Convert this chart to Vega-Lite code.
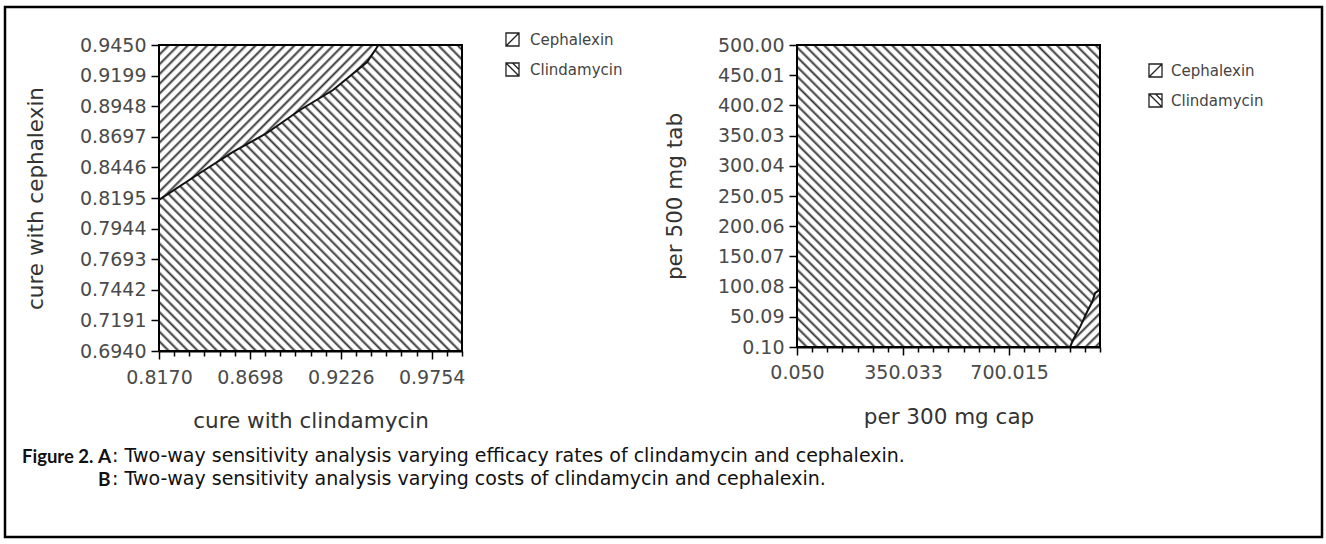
{
  "$schema": "https://vega.github.io/schema/vega-lite/v6.json",
  "width": 1317,
  "height": 530,
  "autosize": {"type": "none"},
  "padding": {"left": 5, "top": 7, "right": 4, "bottom": 7},
  "background": "white",
  "config": {
    "view": {"stroke": "#000", "strokeWidth": 2.5},
    "axis": {
      "grid": false,
      "domainColor": "#000",
      "domainWidth": 2,
      "tickColor": "#000",
      "tickWidth": 1.5,
      "labelFont": "DejaVu Sans",
      "labelFontSize": 19,
      "labelColor": "#4a4a4a",
      "labelFlush": false,
      "labelOverlap": false,
      "labelBound": false,
      "titleFont": "DejaVu Sans",
      "titleFontSize": 21.5,
      "titleFontWeight": "normal",
      "titleColor": "#333"
    }
  },
  "datasets": {
    "rectA": [{"x1": 0.817, "x2": 0.993, "y1": 0.694, "y2": 0.945}],
    "regionA": [
      {"x": 0.817, "yTop": 0.818, "yBot": 0.694},
      {"x": 0.8408, "yTop": 0.84, "yBot": 0.694},
      {"x": 0.86, "yTop": 0.8573, "yBot": 0.694},
      {"x": 0.8797, "yTop": 0.8728, "yBot": 0.694},
      {"x": 0.8989, "yTop": 0.8917, "yBot": 0.694},
      {"x": 0.9181, "yTop": 0.9081, "yBot": 0.694},
      {"x": 0.9379, "yTop": 0.931, "yBot": 0.694},
      {"x": 0.9445, "yTop": 0.945, "yBot": 0.694},
      {"x": 0.993, "yTop": 0.945, "yBot": 0.694}
    ],
    "rectB": [{"x1": 0.05, "x2": 1000, "y1": 0.1, "y2": 500}],
    "regionB": [
      {"x": 0.05, "yTop": 500, "yBot": 0.1},
      {"x": 901, "yTop": 500, "yBot": 0.1},
      {"x": 911, "yTop": 500, "yBot": 11.7},
      {"x": 934, "yTop": 500, "yBot": 33},
      {"x": 957, "yTop": 500, "yBot": 58},
      {"x": 974, "yTop": 500, "yBot": 74.6},
      {"x": 984, "yTop": 500, "yBot": 89.5},
      {"x": 1000, "yTop": 500, "yBot": 95}
    ],
    "drugs": [{"drug": "Cephalexin"}, {"drug": "Clindamycin"}]
  },
  "layer": [
    {
      "layer": [
        {
          "data": {"name": "rectA"},
          "mark": {"type": "rect", "fill": {"gradient": "linear", "x1": 0, "y1": 0, "x2": 1, "y2": 1, "stops": [
{"offset":0,"color":"#333"},{"offset":0.005,"color":"#fff"},{"offset":0.012,"color":"#fff"},
{"offset":0.016,"color":"#333"},{"offset":0.021,"color":"#fff"},{"offset":0.028,"color":"#fff"},
{"offset":0.032,"color":"#333"},{"offset":0.037,"color":"#fff"},{"offset":0.044,"color":"#fff"},
{"offset":0.048,"color":"#333"},{"offset":0.053,"color":"#fff"},{"offset":0.06,"color":"#fff"},
{"offset":0.064,"color":"#333"},{"offset":0.069,"color":"#fff"},{"offset":0.076,"color":"#fff"},
{"offset":0.08,"color":"#333"},{"offset":0.085,"color":"#fff"},{"offset":0.092,"color":"#fff"},
{"offset":0.096,"color":"#333"},{"offset":0.101,"color":"#fff"},{"offset":0.108,"color":"#fff"},
{"offset":0.112,"color":"#333"},{"offset":0.117,"color":"#fff"},{"offset":0.124,"color":"#fff"},
{"offset":0.128,"color":"#333"},{"offset":0.133,"color":"#fff"},{"offset":0.14,"color":"#fff"},
{"offset":0.144,"color":"#333"},{"offset":0.149,"color":"#fff"},{"offset":0.156,"color":"#fff"},
{"offset":0.16,"color":"#333"},{"offset":0.165,"color":"#fff"},{"offset":0.172,"color":"#fff"},
{"offset":0.176,"color":"#333"},{"offset":0.181,"color":"#fff"},{"offset":0.188,"color":"#fff"},
{"offset":0.192,"color":"#333"},{"offset":0.197,"color":"#fff"},{"offset":0.204,"color":"#fff"},
{"offset":0.208,"color":"#333"},{"offset":0.213,"color":"#fff"},{"offset":0.22,"color":"#fff"},
{"offset":0.224,"color":"#333"},{"offset":0.229,"color":"#fff"},{"offset":0.236,"color":"#fff"},
{"offset":0.24,"color":"#333"},{"offset":0.245,"color":"#fff"},{"offset":0.252,"color":"#fff"},
{"offset":0.256,"color":"#333"},{"offset":0.261,"color":"#fff"},{"offset":0.268,"color":"#fff"},
{"offset":0.272,"color":"#333"},{"offset":0.277,"color":"#fff"},{"offset":0.284,"color":"#fff"},
{"offset":0.288,"color":"#333"},{"offset":0.293,"color":"#fff"},{"offset":0.3,"color":"#fff"},
{"offset":0.304,"color":"#333"},{"offset":0.309,"color":"#fff"},{"offset":0.316,"color":"#fff"},
{"offset":0.32,"color":"#333"},{"offset":0.325,"color":"#fff"},{"offset":0.332,"color":"#fff"},
{"offset":0.336,"color":"#333"},{"offset":0.341,"color":"#fff"},{"offset":0.348,"color":"#fff"},
{"offset":0.352,"color":"#333"},{"offset":0.357,"color":"#fff"},{"offset":0.364,"color":"#fff"},
{"offset":0.368,"color":"#333"},{"offset":0.373,"color":"#fff"},{"offset":0.38,"color":"#fff"},
{"offset":0.384,"color":"#333"},{"offset":0.389,"color":"#fff"},{"offset":0.396,"color":"#fff"},
{"offset":0.4,"color":"#333"},{"offset":0.405,"color":"#fff"},{"offset":0.412,"color":"#fff"},
{"offset":0.416,"color":"#333"},{"offset":0.421,"color":"#fff"},{"offset":0.428,"color":"#fff"},
{"offset":0.432,"color":"#333"},{"offset":0.437,"color":"#fff"},{"offset":0.444,"color":"#fff"},
{"offset":0.448,"color":"#333"},{"offset":0.453,"color":"#fff"},{"offset":0.46,"color":"#fff"},
{"offset":0.464,"color":"#333"},{"offset":0.469,"color":"#fff"},{"offset":0.476,"color":"#fff"},
{"offset":0.48,"color":"#333"},{"offset":0.485,"color":"#fff"},{"offset":0.492,"color":"#fff"},
{"offset":0.496,"color":"#333"},{"offset":0.501,"color":"#fff"},{"offset":0.508,"color":"#fff"},
{"offset":0.512,"color":"#333"},{"offset":0.517,"color":"#fff"},{"offset":0.524,"color":"#fff"},
{"offset":0.528,"color":"#333"},{"offset":0.533,"color":"#fff"},{"offset":0.54,"color":"#fff"},
{"offset":0.544,"color":"#333"},{"offset":0.549,"color":"#fff"},{"offset":0.556,"color":"#fff"},
{"offset":0.56,"color":"#333"},{"offset":0.565,"color":"#fff"},{"offset":0.572,"color":"#fff"},
{"offset":0.576,"color":"#333"},{"offset":0.581,"color":"#fff"},{"offset":0.588,"color":"#fff"},
{"offset":0.592,"color":"#333"},{"offset":0.597,"color":"#fff"},{"offset":0.604,"color":"#fff"},
{"offset":0.608,"color":"#333"},{"offset":0.613,"color":"#fff"},{"offset":0.62,"color":"#fff"},
{"offset":0.624,"color":"#333"},{"offset":0.629,"color":"#fff"},{"offset":0.636,"color":"#fff"},
{"offset":0.64,"color":"#333"},{"offset":0.645,"color":"#fff"},{"offset":0.652,"color":"#fff"},
{"offset":0.656,"color":"#333"},{"offset":0.661,"color":"#fff"},{"offset":0.668,"color":"#fff"},
{"offset":0.672,"color":"#333"},{"offset":0.677,"color":"#fff"},{"offset":0.684,"color":"#fff"},
{"offset":0.688,"color":"#333"},{"offset":0.693,"color":"#fff"},{"offset":0.7,"color":"#fff"},
{"offset":0.704,"color":"#333"},{"offset":0.709,"color":"#fff"},{"offset":0.716,"color":"#fff"},
{"offset":0.72,"color":"#333"},{"offset":0.725,"color":"#fff"},{"offset":0.732,"color":"#fff"},
{"offset":0.736,"color":"#333"},{"offset":0.741,"color":"#fff"},{"offset":0.748,"color":"#fff"},
{"offset":0.752,"color":"#333"},{"offset":0.757,"color":"#fff"},{"offset":0.764,"color":"#fff"},
{"offset":0.768,"color":"#333"},{"offset":0.773,"color":"#fff"},{"offset":0.78,"color":"#fff"},
{"offset":0.784,"color":"#333"},{"offset":0.789,"color":"#fff"},{"offset":0.796,"color":"#fff"},
{"offset":0.8,"color":"#333"},{"offset":0.805,"color":"#fff"},{"offset":0.812,"color":"#fff"},
{"offset":0.816,"color":"#333"},{"offset":0.821,"color":"#fff"},{"offset":0.828,"color":"#fff"},
{"offset":0.832,"color":"#333"},{"offset":0.837,"color":"#fff"},{"offset":0.844,"color":"#fff"},
{"offset":0.848,"color":"#333"},{"offset":0.853,"color":"#fff"},{"offset":0.86,"color":"#fff"},
{"offset":0.864,"color":"#333"},{"offset":0.869,"color":"#fff"},{"offset":0.876,"color":"#fff"},
{"offset":0.88,"color":"#333"},{"offset":0.885,"color":"#fff"},{"offset":0.892,"color":"#fff"},
{"offset":0.896,"color":"#333"},{"offset":0.901,"color":"#fff"},{"offset":0.908,"color":"#fff"},
{"offset":0.912,"color":"#333"},{"offset":0.917,"color":"#fff"},{"offset":0.924,"color":"#fff"},
{"offset":0.928,"color":"#333"},{"offset":0.933,"color":"#fff"},{"offset":0.94,"color":"#fff"},
{"offset":0.944,"color":"#333"},{"offset":0.949,"color":"#fff"},{"offset":0.956,"color":"#fff"},
{"offset":0.96,"color":"#333"},{"offset":0.965,"color":"#fff"},{"offset":0.972,"color":"#fff"},
{"offset":0.976,"color":"#333"},{"offset":0.981,"color":"#fff"},{"offset":0.988,"color":"#fff"},
{"offset":0.992,"color":"#333"},{"offset":0.997,"color":"#fff"},{"offset":1,"color":"#fff"}
          ]}},
          "encoding": {
            "x": {"field": "x1", "type": "quantitative",
              "scale": {"domain": [0.817, 0.993], "range": [154, 457], "nice": false, "zero": false},
              "axis": {"orient": "bottom", "offset": -186, "title": "cure with clindamycin", "titlePadding": 23, "labelPadding": 9,
                "values": [0.817, 0.8258, 0.8346, 0.8434, 0.8522, 0.861, 0.8698, 0.8786, 0.8874, 0.8962, 0.905, 0.9138, 0.9226, 0.9314, 0.9402, 0.949, 0.9578, 0.9666, 0.9754, 0.9842, 0.993],
                "labelExpr": "indexof([0.817,0.8698,0.9226,0.9754], datum.value) >= 0 ? format(datum.value, '.4f') : ''",
                "tickSize": {"condition": {"test": "indexof([0.817,0.8698,0.9226,0.9754], datum.value) >= 0", "value": 8}, "value": 5}}},
            "x2": {"field": "x2"},
            "y": {"field": "y1", "type": "quantitative",
              "scale": {"domain": [0.694, 0.945], "range": [344, 38], "nice": false, "zero": false},
              "axis": {"orient": "left", "offset": -154, "title": "cure with cephalexin", "titlePadding": 32, "labelPadding": 5,
                "values": [0.694, 0.70655, 0.7191, 0.73165, 0.7442, 0.75675, 0.7693, 0.78185, 0.7944, 0.80695, 0.8195, 0.83205, 0.8446, 0.85715, 0.8697, 0.88225, 0.8948, 0.90735, 0.9199, 0.93245, 0.945],
                "labelExpr": "indexof([0.694,0.7191,0.7442,0.7693,0.7944,0.8195,0.8446,0.8697,0.8948,0.9199,0.945], datum.value) >= 0 ? format(datum.value, '.4f') : ''",
                "tickSize": {"condition": {"test": "indexof([0.694,0.7191,0.7442,0.7693,0.7944,0.8195,0.8446,0.8697,0.8948,0.9199,0.945], datum.value) >= 0", "value": 8}, "value": 5}}},
            "y2": {"field": "y2"}
          }
        },
        {
          "data": {"name": "regionA"},
          "mark": {"type": "area", "interpolate": "linear", "fill": {"gradient": "linear", "x1": 0, "y1": 1, "x2": 1, "y2": 0, "stops": [
{"offset":0,"color":"#333"},{"offset":0.005,"color":"#fff"},{"offset":0.012,"color":"#fff"},
{"offset":0.016,"color":"#333"},{"offset":0.021,"color":"#fff"},{"offset":0.028,"color":"#fff"},
{"offset":0.032,"color":"#333"},{"offset":0.037,"color":"#fff"},{"offset":0.044,"color":"#fff"},
{"offset":0.048,"color":"#333"},{"offset":0.053,"color":"#fff"},{"offset":0.06,"color":"#fff"},
{"offset":0.064,"color":"#333"},{"offset":0.069,"color":"#fff"},{"offset":0.076,"color":"#fff"},
{"offset":0.08,"color":"#333"},{"offset":0.085,"color":"#fff"},{"offset":0.092,"color":"#fff"},
{"offset":0.096,"color":"#333"},{"offset":0.101,"color":"#fff"},{"offset":0.108,"color":"#fff"},
{"offset":0.112,"color":"#333"},{"offset":0.117,"color":"#fff"},{"offset":0.124,"color":"#fff"},
{"offset":0.128,"color":"#333"},{"offset":0.133,"color":"#fff"},{"offset":0.14,"color":"#fff"},
{"offset":0.144,"color":"#333"},{"offset":0.149,"color":"#fff"},{"offset":0.156,"color":"#fff"},
{"offset":0.16,"color":"#333"},{"offset":0.165,"color":"#fff"},{"offset":0.172,"color":"#fff"},
{"offset":0.176,"color":"#333"},{"offset":0.181,"color":"#fff"},{"offset":0.188,"color":"#fff"},
{"offset":0.192,"color":"#333"},{"offset":0.197,"color":"#fff"},{"offset":0.204,"color":"#fff"},
{"offset":0.208,"color":"#333"},{"offset":0.213,"color":"#fff"},{"offset":0.22,"color":"#fff"},
{"offset":0.224,"color":"#333"},{"offset":0.229,"color":"#fff"},{"offset":0.236,"color":"#fff"},
{"offset":0.24,"color":"#333"},{"offset":0.245,"color":"#fff"},{"offset":0.252,"color":"#fff"},
{"offset":0.256,"color":"#333"},{"offset":0.261,"color":"#fff"},{"offset":0.268,"color":"#fff"},
{"offset":0.272,"color":"#333"},{"offset":0.277,"color":"#fff"},{"offset":0.284,"color":"#fff"},
{"offset":0.288,"color":"#333"},{"offset":0.293,"color":"#fff"},{"offset":0.3,"color":"#fff"},
{"offset":0.304,"color":"#333"},{"offset":0.309,"color":"#fff"},{"offset":0.316,"color":"#fff"},
{"offset":0.32,"color":"#333"},{"offset":0.325,"color":"#fff"},{"offset":0.332,"color":"#fff"},
{"offset":0.336,"color":"#333"},{"offset":0.341,"color":"#fff"},{"offset":0.348,"color":"#fff"},
{"offset":0.352,"color":"#333"},{"offset":0.357,"color":"#fff"},{"offset":0.364,"color":"#fff"},
{"offset":0.368,"color":"#333"},{"offset":0.373,"color":"#fff"},{"offset":0.38,"color":"#fff"},
{"offset":0.384,"color":"#333"},{"offset":0.389,"color":"#fff"},{"offset":0.396,"color":"#fff"},
{"offset":0.4,"color":"#333"},{"offset":0.405,"color":"#fff"},{"offset":0.412,"color":"#fff"},
{"offset":0.416,"color":"#333"},{"offset":0.421,"color":"#fff"},{"offset":0.428,"color":"#fff"},
{"offset":0.432,"color":"#333"},{"offset":0.437,"color":"#fff"},{"offset":0.444,"color":"#fff"},
{"offset":0.448,"color":"#333"},{"offset":0.453,"color":"#fff"},{"offset":0.46,"color":"#fff"},
{"offset":0.464,"color":"#333"},{"offset":0.469,"color":"#fff"},{"offset":0.476,"color":"#fff"},
{"offset":0.48,"color":"#333"},{"offset":0.485,"color":"#fff"},{"offset":0.492,"color":"#fff"},
{"offset":0.496,"color":"#333"},{"offset":0.501,"color":"#fff"},{"offset":0.508,"color":"#fff"},
{"offset":0.512,"color":"#333"},{"offset":0.517,"color":"#fff"},{"offset":0.524,"color":"#fff"},
{"offset":0.528,"color":"#333"},{"offset":0.533,"color":"#fff"},{"offset":0.54,"color":"#fff"},
{"offset":0.544,"color":"#333"},{"offset":0.549,"color":"#fff"},{"offset":0.556,"color":"#fff"},
{"offset":0.56,"color":"#333"},{"offset":0.565,"color":"#fff"},{"offset":0.572,"color":"#fff"},
{"offset":0.576,"color":"#333"},{"offset":0.581,"color":"#fff"},{"offset":0.588,"color":"#fff"},
{"offset":0.592,"color":"#333"},{"offset":0.597,"color":"#fff"},{"offset":0.604,"color":"#fff"},
{"offset":0.608,"color":"#333"},{"offset":0.613,"color":"#fff"},{"offset":0.62,"color":"#fff"},
{"offset":0.624,"color":"#333"},{"offset":0.629,"color":"#fff"},{"offset":0.636,"color":"#fff"},
{"offset":0.64,"color":"#333"},{"offset":0.645,"color":"#fff"},{"offset":0.652,"color":"#fff"},
{"offset":0.656,"color":"#333"},{"offset":0.661,"color":"#fff"},{"offset":0.668,"color":"#fff"},
{"offset":0.672,"color":"#333"},{"offset":0.677,"color":"#fff"},{"offset":0.684,"color":"#fff"},
{"offset":0.688,"color":"#333"},{"offset":0.693,"color":"#fff"},{"offset":0.7,"color":"#fff"},
{"offset":0.704,"color":"#333"},{"offset":0.709,"color":"#fff"},{"offset":0.716,"color":"#fff"},
{"offset":0.72,"color":"#333"},{"offset":0.725,"color":"#fff"},{"offset":0.732,"color":"#fff"},
{"offset":0.736,"color":"#333"},{"offset":0.741,"color":"#fff"},{"offset":0.748,"color":"#fff"},
{"offset":0.752,"color":"#333"},{"offset":0.757,"color":"#fff"},{"offset":0.764,"color":"#fff"},
{"offset":0.768,"color":"#333"},{"offset":0.773,"color":"#fff"},{"offset":0.78,"color":"#fff"},
{"offset":0.784,"color":"#333"},{"offset":0.789,"color":"#fff"},{"offset":0.796,"color":"#fff"},
{"offset":0.8,"color":"#333"},{"offset":0.805,"color":"#fff"},{"offset":0.812,"color":"#fff"},
{"offset":0.816,"color":"#333"},{"offset":0.821,"color":"#fff"},{"offset":0.828,"color":"#fff"},
{"offset":0.832,"color":"#333"},{"offset":0.837,"color":"#fff"},{"offset":0.844,"color":"#fff"},
{"offset":0.848,"color":"#333"},{"offset":0.853,"color":"#fff"},{"offset":0.86,"color":"#fff"},
{"offset":0.864,"color":"#333"},{"offset":0.869,"color":"#fff"},{"offset":0.876,"color":"#fff"},
{"offset":0.88,"color":"#333"},{"offset":0.885,"color":"#fff"},{"offset":0.892,"color":"#fff"},
{"offset":0.896,"color":"#333"},{"offset":0.901,"color":"#fff"},{"offset":0.908,"color":"#fff"},
{"offset":0.912,"color":"#333"},{"offset":0.917,"color":"#fff"},{"offset":0.924,"color":"#fff"},
{"offset":0.928,"color":"#333"},{"offset":0.933,"color":"#fff"},{"offset":0.94,"color":"#fff"},
{"offset":0.944,"color":"#333"},{"offset":0.949,"color":"#fff"},{"offset":0.956,"color":"#fff"},
{"offset":0.96,"color":"#333"},{"offset":0.965,"color":"#fff"},{"offset":0.972,"color":"#fff"},
{"offset":0.976,"color":"#333"},{"offset":0.981,"color":"#fff"},{"offset":0.988,"color":"#fff"},
{"offset":0.992,"color":"#333"},{"offset":0.997,"color":"#fff"},{"offset":1,"color":"#fff"}
          ]}},
          "encoding": {
            "x": {"field": "x", "type": "quantitative"},
            "y": {"field": "yTop", "type": "quantitative"},
            "y2": {"field": "yBot"}
          }
        },
        {
          "data": {"name": "regionA"},
          "transform": [{"filter": "datum.x <= 0.9445"}],
          "mark": {"type": "line", "color": "#111", "strokeWidth": 2},
          "encoding": {
            "x": {"field": "x", "type": "quantitative"},
            "y": {"field": "yTop", "type": "quantitative"}
          }
        },
        {
          "data": {"name": "rectA"},
          "mark": {"type": "rect", "filled": false, "stroke": "#000", "strokeWidth": 2},
          "encoding": {
            "x": {"field": "x1", "type": "quantitative"},
            "x2": {"field": "x2"},
            "y": {"field": "y1", "type": "quantitative"},
            "y2": {"field": "y2"}
          }
        },
        {
          "data": {"name": "drugs"},
          "mark": {"type": "point", "opacity": 0, "color": "#222", "strokeWidth": 1.3},
          "encoding": {
            "shape": {"field": "drug", "type": "nominal",
              "scale": {"domain": ["Cephalexin", "Clindamycin"], "range": ["M-1,-1H1V1H-1Z M-1,1L1,-1", "M-1,-1H1V1H-1Z M-1,-1L1,1 M0,-1L1,0"]},
              "legend": {"title": null, "orient": "none", "legendX": 500, "legendY": 25, "symbolOpacity": 1, "symbolStrokeColor": "#222", "symbolFillColor": "#fff", "symbolSize": 170, "symbolStrokeWidth": 1.3, "labelFont": "DejaVu Sans", "labelFontSize": 15, "labelColor": "#444", "rowPadding": 11, "labelOffset": 10}}
          }
        }
      ]
    },
    {
      "layer": [
        {
          "data": {"name": "rectB"},
          "mark": {"type": "rect", "fill": {"gradient": "linear", "x1": 0, "y1": 0, "x2": 1, "y2": 1, "stops": [
{"offset":0,"color":"#333"},{"offset":0.005,"color":"#fff"},{"offset":0.012,"color":"#fff"},
{"offset":0.016,"color":"#333"},{"offset":0.021,"color":"#fff"},{"offset":0.028,"color":"#fff"},
{"offset":0.032,"color":"#333"},{"offset":0.037,"color":"#fff"},{"offset":0.044,"color":"#fff"},
{"offset":0.048,"color":"#333"},{"offset":0.053,"color":"#fff"},{"offset":0.06,"color":"#fff"},
{"offset":0.064,"color":"#333"},{"offset":0.069,"color":"#fff"},{"offset":0.076,"color":"#fff"},
{"offset":0.08,"color":"#333"},{"offset":0.085,"color":"#fff"},{"offset":0.092,"color":"#fff"},
{"offset":0.096,"color":"#333"},{"offset":0.101,"color":"#fff"},{"offset":0.108,"color":"#fff"},
{"offset":0.112,"color":"#333"},{"offset":0.117,"color":"#fff"},{"offset":0.124,"color":"#fff"},
{"offset":0.128,"color":"#333"},{"offset":0.133,"color":"#fff"},{"offset":0.14,"color":"#fff"},
{"offset":0.144,"color":"#333"},{"offset":0.149,"color":"#fff"},{"offset":0.156,"color":"#fff"},
{"offset":0.16,"color":"#333"},{"offset":0.165,"color":"#fff"},{"offset":0.172,"color":"#fff"},
{"offset":0.176,"color":"#333"},{"offset":0.181,"color":"#fff"},{"offset":0.188,"color":"#fff"},
{"offset":0.192,"color":"#333"},{"offset":0.197,"color":"#fff"},{"offset":0.204,"color":"#fff"},
{"offset":0.208,"color":"#333"},{"offset":0.213,"color":"#fff"},{"offset":0.22,"color":"#fff"},
{"offset":0.224,"color":"#333"},{"offset":0.229,"color":"#fff"},{"offset":0.236,"color":"#fff"},
{"offset":0.24,"color":"#333"},{"offset":0.245,"color":"#fff"},{"offset":0.252,"color":"#fff"},
{"offset":0.256,"color":"#333"},{"offset":0.261,"color":"#fff"},{"offset":0.268,"color":"#fff"},
{"offset":0.272,"color":"#333"},{"offset":0.277,"color":"#fff"},{"offset":0.284,"color":"#fff"},
{"offset":0.288,"color":"#333"},{"offset":0.293,"color":"#fff"},{"offset":0.3,"color":"#fff"},
{"offset":0.304,"color":"#333"},{"offset":0.309,"color":"#fff"},{"offset":0.316,"color":"#fff"},
{"offset":0.32,"color":"#333"},{"offset":0.325,"color":"#fff"},{"offset":0.332,"color":"#fff"},
{"offset":0.336,"color":"#333"},{"offset":0.341,"color":"#fff"},{"offset":0.348,"color":"#fff"},
{"offset":0.352,"color":"#333"},{"offset":0.357,"color":"#fff"},{"offset":0.364,"color":"#fff"},
{"offset":0.368,"color":"#333"},{"offset":0.373,"color":"#fff"},{"offset":0.38,"color":"#fff"},
{"offset":0.384,"color":"#333"},{"offset":0.389,"color":"#fff"},{"offset":0.396,"color":"#fff"},
{"offset":0.4,"color":"#333"},{"offset":0.405,"color":"#fff"},{"offset":0.412,"color":"#fff"},
{"offset":0.416,"color":"#333"},{"offset":0.421,"color":"#fff"},{"offset":0.428,"color":"#fff"},
{"offset":0.432,"color":"#333"},{"offset":0.437,"color":"#fff"},{"offset":0.444,"color":"#fff"},
{"offset":0.448,"color":"#333"},{"offset":0.453,"color":"#fff"},{"offset":0.46,"color":"#fff"},
{"offset":0.464,"color":"#333"},{"offset":0.469,"color":"#fff"},{"offset":0.476,"color":"#fff"},
{"offset":0.48,"color":"#333"},{"offset":0.485,"color":"#fff"},{"offset":0.492,"color":"#fff"},
{"offset":0.496,"color":"#333"},{"offset":0.501,"color":"#fff"},{"offset":0.508,"color":"#fff"},
{"offset":0.512,"color":"#333"},{"offset":0.517,"color":"#fff"},{"offset":0.524,"color":"#fff"},
{"offset":0.528,"color":"#333"},{"offset":0.533,"color":"#fff"},{"offset":0.54,"color":"#fff"},
{"offset":0.544,"color":"#333"},{"offset":0.549,"color":"#fff"},{"offset":0.556,"color":"#fff"},
{"offset":0.56,"color":"#333"},{"offset":0.565,"color":"#fff"},{"offset":0.572,"color":"#fff"},
{"offset":0.576,"color":"#333"},{"offset":0.581,"color":"#fff"},{"offset":0.588,"color":"#fff"},
{"offset":0.592,"color":"#333"},{"offset":0.597,"color":"#fff"},{"offset":0.604,"color":"#fff"},
{"offset":0.608,"color":"#333"},{"offset":0.613,"color":"#fff"},{"offset":0.62,"color":"#fff"},
{"offset":0.624,"color":"#333"},{"offset":0.629,"color":"#fff"},{"offset":0.636,"color":"#fff"},
{"offset":0.64,"color":"#333"},{"offset":0.645,"color":"#fff"},{"offset":0.652,"color":"#fff"},
{"offset":0.656,"color":"#333"},{"offset":0.661,"color":"#fff"},{"offset":0.668,"color":"#fff"},
{"offset":0.672,"color":"#333"},{"offset":0.677,"color":"#fff"},{"offset":0.684,"color":"#fff"},
{"offset":0.688,"color":"#333"},{"offset":0.693,"color":"#fff"},{"offset":0.7,"color":"#fff"},
{"offset":0.704,"color":"#333"},{"offset":0.709,"color":"#fff"},{"offset":0.716,"color":"#fff"},
{"offset":0.72,"color":"#333"},{"offset":0.725,"color":"#fff"},{"offset":0.732,"color":"#fff"},
{"offset":0.736,"color":"#333"},{"offset":0.741,"color":"#fff"},{"offset":0.748,"color":"#fff"},
{"offset":0.752,"color":"#333"},{"offset":0.757,"color":"#fff"},{"offset":0.764,"color":"#fff"},
{"offset":0.768,"color":"#333"},{"offset":0.773,"color":"#fff"},{"offset":0.78,"color":"#fff"},
{"offset":0.784,"color":"#333"},{"offset":0.789,"color":"#fff"},{"offset":0.796,"color":"#fff"},
{"offset":0.8,"color":"#333"},{"offset":0.805,"color":"#fff"},{"offset":0.812,"color":"#fff"},
{"offset":0.816,"color":"#333"},{"offset":0.821,"color":"#fff"},{"offset":0.828,"color":"#fff"},
{"offset":0.832,"color":"#333"},{"offset":0.837,"color":"#fff"},{"offset":0.844,"color":"#fff"},
{"offset":0.848,"color":"#333"},{"offset":0.853,"color":"#fff"},{"offset":0.86,"color":"#fff"},
{"offset":0.864,"color":"#333"},{"offset":0.869,"color":"#fff"},{"offset":0.876,"color":"#fff"},
{"offset":0.88,"color":"#333"},{"offset":0.885,"color":"#fff"},{"offset":0.892,"color":"#fff"},
{"offset":0.896,"color":"#333"},{"offset":0.901,"color":"#fff"},{"offset":0.908,"color":"#fff"},
{"offset":0.912,"color":"#333"},{"offset":0.917,"color":"#fff"},{"offset":0.924,"color":"#fff"},
{"offset":0.928,"color":"#333"},{"offset":0.933,"color":"#fff"},{"offset":0.94,"color":"#fff"},
{"offset":0.944,"color":"#333"},{"offset":0.949,"color":"#fff"},{"offset":0.956,"color":"#fff"},
{"offset":0.96,"color":"#333"},{"offset":0.965,"color":"#fff"},{"offset":0.972,"color":"#fff"},
{"offset":0.976,"color":"#333"},{"offset":0.981,"color":"#fff"},{"offset":0.988,"color":"#fff"},
{"offset":0.992,"color":"#333"},{"offset":0.997,"color":"#fff"},{"offset":1,"color":"#fff"}
          ]}},
          "encoding": {
            "x": {"field": "x1", "type": "quantitative",
              "scale": {"domain": [0.05, 1000], "range": [792, 1095], "nice": false, "zero": false},
              "axis": {"orient": "bottom", "offset": -190, "title": "per 300 mg cap", "titlePadding": 24, "labelPadding": 8,
                "values": [0.05, 50, 100, 150, 200, 250, 300, 350.033, 400, 450, 500, 550, 600, 650, 700.015, 750, 800, 850, 900, 950, 1000],
                "labelExpr": "indexof([0.05,350.033,700.015], datum.value) >= 0 ? format(datum.value, '.3f') : ''",
                "tickSize": {"condition": {"test": "indexof([0.05,350.033,700.015], datum.value) >= 0", "value": 8}, "value": 5}}},
            "x2": {"field": "x2"},
            "y": {"field": "y1", "type": "quantitative",
              "scale": {"domain": [0.1, 500], "range": [340, 38], "nice": false, "zero": false},
              "axis": {"orient": "left", "offset": -792, "title": "per 500 mg tab", "titlePadding": 31, "labelPadding": 5,
                "values": [0.1, 25.095, 50.09, 75.085, 100.08, 125.075, 150.07, 175.065, 200.06, 225.055, 250.05, 275.045, 300.04, 325.035, 350.03, 375.025, 400.02, 425.015, 450.01, 475.005, 500],
                "labelExpr": "indexof([0.1,50.09,100.08,150.07,200.06,250.05,300.04,350.03,400.02,450.01,500], datum.value) >= 0 ? format(datum.value, '.2f') : ''",
                "tickSize": {"condition": {"test": "indexof([0.1,50.09,100.08,150.07,200.06,250.05,300.04,350.03,400.02,450.01,500], datum.value) >= 0", "value": 8}, "value": 5}}},
            "y2": {"field": "y2"}
          }
        },
        {
          "data": {"name": "regionB"},
          "mark": {"type": "area", "interpolate": "linear", "fill": {"gradient": "linear", "x1": 0, "y1": 1, "x2": 1, "y2": 0, "stops": [
{"offset":0,"color":"#333"},{"offset":0.005,"color":"#fff"},{"offset":0.012,"color":"#fff"},
{"offset":0.016,"color":"#333"},{"offset":0.021,"color":"#fff"},{"offset":0.028,"color":"#fff"},
{"offset":0.032,"color":"#333"},{"offset":0.037,"color":"#fff"},{"offset":0.044,"color":"#fff"},
{"offset":0.048,"color":"#333"},{"offset":0.053,"color":"#fff"},{"offset":0.06,"color":"#fff"},
{"offset":0.064,"color":"#333"},{"offset":0.069,"color":"#fff"},{"offset":0.076,"color":"#fff"},
{"offset":0.08,"color":"#333"},{"offset":0.085,"color":"#fff"},{"offset":0.092,"color":"#fff"},
{"offset":0.096,"color":"#333"},{"offset":0.101,"color":"#fff"},{"offset":0.108,"color":"#fff"},
{"offset":0.112,"color":"#333"},{"offset":0.117,"color":"#fff"},{"offset":0.124,"color":"#fff"},
{"offset":0.128,"color":"#333"},{"offset":0.133,"color":"#fff"},{"offset":0.14,"color":"#fff"},
{"offset":0.144,"color":"#333"},{"offset":0.149,"color":"#fff"},{"offset":0.156,"color":"#fff"},
{"offset":0.16,"color":"#333"},{"offset":0.165,"color":"#fff"},{"offset":0.172,"color":"#fff"},
{"offset":0.176,"color":"#333"},{"offset":0.181,"color":"#fff"},{"offset":0.188,"color":"#fff"},
{"offset":0.192,"color":"#333"},{"offset":0.197,"color":"#fff"},{"offset":0.204,"color":"#fff"},
{"offset":0.208,"color":"#333"},{"offset":0.213,"color":"#fff"},{"offset":0.22,"color":"#fff"},
{"offset":0.224,"color":"#333"},{"offset":0.229,"color":"#fff"},{"offset":0.236,"color":"#fff"},
{"offset":0.24,"color":"#333"},{"offset":0.245,"color":"#fff"},{"offset":0.252,"color":"#fff"},
{"offset":0.256,"color":"#333"},{"offset":0.261,"color":"#fff"},{"offset":0.268,"color":"#fff"},
{"offset":0.272,"color":"#333"},{"offset":0.277,"color":"#fff"},{"offset":0.284,"color":"#fff"},
{"offset":0.288,"color":"#333"},{"offset":0.293,"color":"#fff"},{"offset":0.3,"color":"#fff"},
{"offset":0.304,"color":"#333"},{"offset":0.309,"color":"#fff"},{"offset":0.316,"color":"#fff"},
{"offset":0.32,"color":"#333"},{"offset":0.325,"color":"#fff"},{"offset":0.332,"color":"#fff"},
{"offset":0.336,"color":"#333"},{"offset":0.341,"color":"#fff"},{"offset":0.348,"color":"#fff"},
{"offset":0.352,"color":"#333"},{"offset":0.357,"color":"#fff"},{"offset":0.364,"color":"#fff"},
{"offset":0.368,"color":"#333"},{"offset":0.373,"color":"#fff"},{"offset":0.38,"color":"#fff"},
{"offset":0.384,"color":"#333"},{"offset":0.389,"color":"#fff"},{"offset":0.396,"color":"#fff"},
{"offset":0.4,"color":"#333"},{"offset":0.405,"color":"#fff"},{"offset":0.412,"color":"#fff"},
{"offset":0.416,"color":"#333"},{"offset":0.421,"color":"#fff"},{"offset":0.428,"color":"#fff"},
{"offset":0.432,"color":"#333"},{"offset":0.437,"color":"#fff"},{"offset":0.444,"color":"#fff"},
{"offset":0.448,"color":"#333"},{"offset":0.453,"color":"#fff"},{"offset":0.46,"color":"#fff"},
{"offset":0.464,"color":"#333"},{"offset":0.469,"color":"#fff"},{"offset":0.476,"color":"#fff"},
{"offset":0.48,"color":"#333"},{"offset":0.485,"color":"#fff"},{"offset":0.492,"color":"#fff"},
{"offset":0.496,"color":"#333"},{"offset":0.501,"color":"#fff"},{"offset":0.508,"color":"#fff"},
{"offset":0.512,"color":"#333"},{"offset":0.517,"color":"#fff"},{"offset":0.524,"color":"#fff"},
{"offset":0.528,"color":"#333"},{"offset":0.533,"color":"#fff"},{"offset":0.54,"color":"#fff"},
{"offset":0.544,"color":"#333"},{"offset":0.549,"color":"#fff"},{"offset":0.556,"color":"#fff"},
{"offset":0.56,"color":"#333"},{"offset":0.565,"color":"#fff"},{"offset":0.572,"color":"#fff"},
{"offset":0.576,"color":"#333"},{"offset":0.581,"color":"#fff"},{"offset":0.588,"color":"#fff"},
{"offset":0.592,"color":"#333"},{"offset":0.597,"color":"#fff"},{"offset":0.604,"color":"#fff"},
{"offset":0.608,"color":"#333"},{"offset":0.613,"color":"#fff"},{"offset":0.62,"color":"#fff"},
{"offset":0.624,"color":"#333"},{"offset":0.629,"color":"#fff"},{"offset":0.636,"color":"#fff"},
{"offset":0.64,"color":"#333"},{"offset":0.645,"color":"#fff"},{"offset":0.652,"color":"#fff"},
{"offset":0.656,"color":"#333"},{"offset":0.661,"color":"#fff"},{"offset":0.668,"color":"#fff"},
{"offset":0.672,"color":"#333"},{"offset":0.677,"color":"#fff"},{"offset":0.684,"color":"#fff"},
{"offset":0.688,"color":"#333"},{"offset":0.693,"color":"#fff"},{"offset":0.7,"color":"#fff"},
{"offset":0.704,"color":"#333"},{"offset":0.709,"color":"#fff"},{"offset":0.716,"color":"#fff"},
{"offset":0.72,"color":"#333"},{"offset":0.725,"color":"#fff"},{"offset":0.732,"color":"#fff"},
{"offset":0.736,"color":"#333"},{"offset":0.741,"color":"#fff"},{"offset":0.748,"color":"#fff"},
{"offset":0.752,"color":"#333"},{"offset":0.757,"color":"#fff"},{"offset":0.764,"color":"#fff"},
{"offset":0.768,"color":"#333"},{"offset":0.773,"color":"#fff"},{"offset":0.78,"color":"#fff"},
{"offset":0.784,"color":"#333"},{"offset":0.789,"color":"#fff"},{"offset":0.796,"color":"#fff"},
{"offset":0.8,"color":"#333"},{"offset":0.805,"color":"#fff"},{"offset":0.812,"color":"#fff"},
{"offset":0.816,"color":"#333"},{"offset":0.821,"color":"#fff"},{"offset":0.828,"color":"#fff"},
{"offset":0.832,"color":"#333"},{"offset":0.837,"color":"#fff"},{"offset":0.844,"color":"#fff"},
{"offset":0.848,"color":"#333"},{"offset":0.853,"color":"#fff"},{"offset":0.86,"color":"#fff"},
{"offset":0.864,"color":"#333"},{"offset":0.869,"color":"#fff"},{"offset":0.876,"color":"#fff"},
{"offset":0.88,"color":"#333"},{"offset":0.885,"color":"#fff"},{"offset":0.892,"color":"#fff"},
{"offset":0.896,"color":"#333"},{"offset":0.901,"color":"#fff"},{"offset":0.908,"color":"#fff"},
{"offset":0.912,"color":"#333"},{"offset":0.917,"color":"#fff"},{"offset":0.924,"color":"#fff"},
{"offset":0.928,"color":"#333"},{"offset":0.933,"color":"#fff"},{"offset":0.94,"color":"#fff"},
{"offset":0.944,"color":"#333"},{"offset":0.949,"color":"#fff"},{"offset":0.956,"color":"#fff"},
{"offset":0.96,"color":"#333"},{"offset":0.965,"color":"#fff"},{"offset":0.972,"color":"#fff"},
{"offset":0.976,"color":"#333"},{"offset":0.981,"color":"#fff"},{"offset":0.988,"color":"#fff"},
{"offset":0.992,"color":"#333"},{"offset":0.997,"color":"#fff"},{"offset":1,"color":"#fff"}
          ]}},
          "encoding": {
            "x": {"field": "x", "type": "quantitative"},
            "y": {"field": "yTop", "type": "quantitative"},
            "y2": {"field": "yBot"}
          }
        },
        {
          "data": {"name": "regionB"},
          "transform": [{"filter": "datum.x >= 901"}],
          "mark": {"type": "line", "color": "#111", "strokeWidth": 2},
          "encoding": {
            "x": {"field": "x", "type": "quantitative"},
            "y": {"field": "yBot", "type": "quantitative"}
          }
        },
        {
          "data": {"name": "rectB"},
          "mark": {"type": "rect", "filled": false, "stroke": "#000", "strokeWidth": 2},
          "encoding": {
            "x": {"field": "x1", "type": "quantitative"},
            "x2": {"field": "x2"},
            "y": {"field": "y1", "type": "quantitative"},
            "y2": {"field": "y2"}
          }
        },
        {
          "data": {"name": "drugs"},
          "mark": {"type": "point", "opacity": 0, "color": "#222", "strokeWidth": 1.3},
          "encoding": {
            "shape": {"field": "drug", "type": "nominal",
              "scale": {"domain": ["Cephalexin", "Clindamycin"], "range": ["M-1,-1H1V1H-1Z M-1,1L1,-1", "M-1,-1H1V1H-1Z M-1,-1L1,1 M0,-1L1,0"]},
              "legend": {"title": null, "orient": "none", "legendX": 1143, "legendY": 56, "symbolOpacity": 1, "symbolStrokeColor": "#222", "symbolFillColor": "#fff", "symbolSize": 170, "symbolStrokeWidth": 1.3, "labelFont": "DejaVu Sans", "labelFontSize": 15, "labelColor": "#444", "rowPadding": 11, "labelOffset": 8}}
          }
        }
      ]
    },
    {
      "data": {"values": [{"t": "Figure 2."}]},
      "mark": {"type": "text", "align": "left", "baseline": "top", "font": "Lato", "fontSize": 18.5, "fontWeight": "bold", "color": "#111"},
      "encoding": {"text": {"field": "t"}, "x": {"value": 17}, "y": {"value": 441}}
    },
    {
      "data": {"values": [{"t": ["A", "B"]}]},
      "mark": {"type": "text", "align": "left", "baseline": "top", "lineHeight": 23, "font": "Lato", "fontSize": 19, "fontWeight": "bold", "color": "#111"},
      "encoding": {"text": {"field": "t"}, "x": {"value": 93}, "y": {"value": 441}}
    },
    {
      "data": {"values": [{"t": [": Two-way sensitivity analysis varying efficacy rates of clindamycin and cephalexin.", ": Two-way sensitivity analysis varying costs of clindamycin and cephalexin."]}]},
      "mark": {"type": "text", "align": "left", "baseline": "top", "lineHeight": 23, "font": "DejaVu Sans", "fontSize": 19, "color": "#111"},
      "encoding": {"text": {"field": "t"}, "x": {"value": 107}, "y": {"value": 440}}
    }
  ],
  "resolve": {"scale": {"x": "independent", "y": "independent", "shape": "independent"}}
}
